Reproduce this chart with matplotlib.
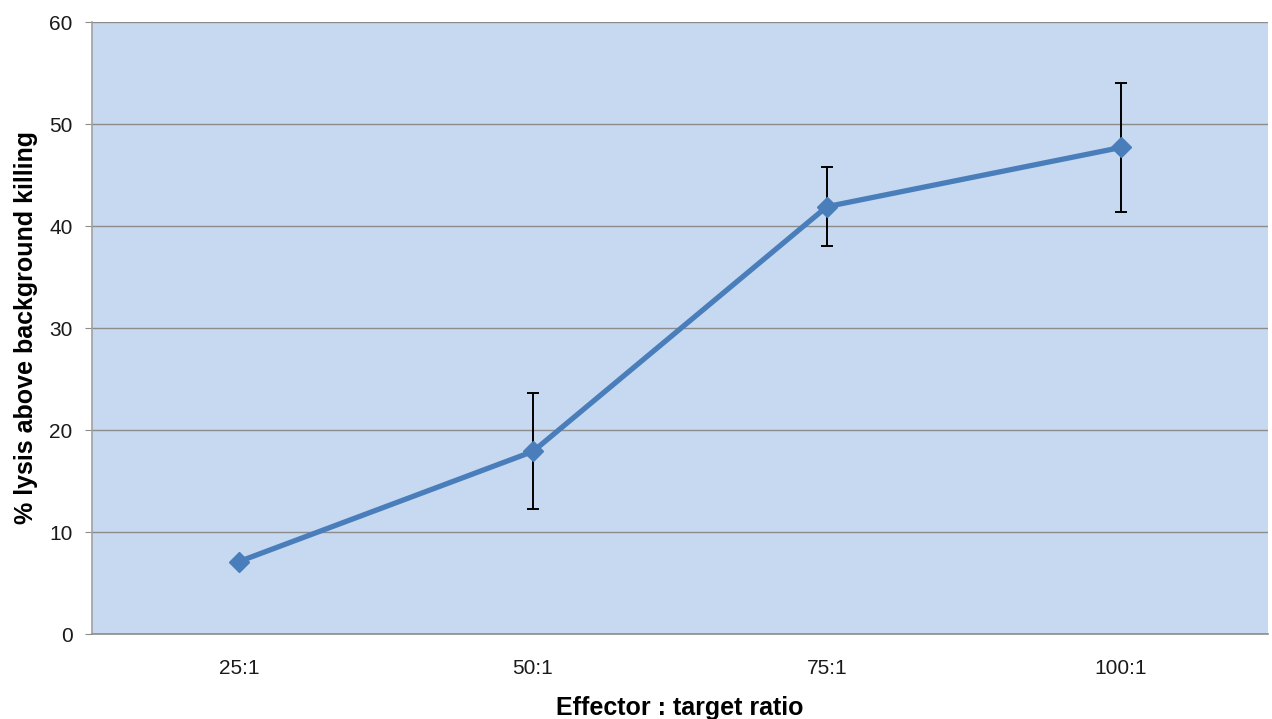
import matplotlib
matplotlib.use("Agg")
import matplotlib.pyplot as plt
import numpy as np

categories = ["25:1", "50:1", "75:1", "100:1"]
lysis = [7.1, 17.9, 41.9, 47.7]
err_upper = [0.0, 5.7, 3.9, 6.3]
err_lower = [0.0, 5.6, 3.9, 6.3]
y_ticks = [0, 10, 20, 30, 40, 50, 60]

plt.rcParams['font.family'] = ['Liberation Sans', 'DejaVu Sans']

fig = plt.figure(figsize=(12.72, 7.19), dpi=100)
ax = fig.add_axes([92/1272, 85/719, 1176/1272, 612/719])
ax.set_facecolor('#C6D9F1')

x = np.arange(len(categories))
ax.errorbar(x, lysis, yerr=[err_lower, err_upper], fmt='none', ecolor='black',
            elinewidth=1.4, capsize=4, capthick=1.4, zorder=2)
ax.plot(x, lysis, color='#4A7EBB', linewidth=3.8, marker='D', markersize=10,
        markerfacecolor='#4A7EBB', markeredgecolor='#4A7EBB', zorder=3)

ax.set_xlim(-0.5, len(categories) - 0.5)
ax.set_ylim(0, 60)
ax.set_yticks(y_ticks)
ax.set_xticks(x)
ax.set_xticklabels(categories)
ax.yaxis.grid(True, color='#8C8C8C', linewidth=1.0)
ax.set_axisbelow(True)

for s in ['top', 'right']:
    ax.spines[s].set_visible(False)
ax.spines['left'].set_color('#A0A0A0')
ax.spines['bottom'].set_color('#8C8C8C')
ax.spines['left'].set_linewidth(1.2)
ax.spines['bottom'].set_linewidth(1.2)

ax.tick_params(axis='y', length=5, color='#8C8C8C', labelsize=15, pad=9, labelcolor='#1a1a1a')
ax.tick_params(axis='x', length=0, labelsize=15, pad=18, labelcolor='#1a1a1a')

ax.set_xlabel('Effector : target ratio', fontsize=18, fontweight='bold', labelpad=13)
ax.set_ylabel('% lysis above background killing', fontsize=18, fontweight='bold', labelpad=8)

fig.savefig('out.png', dpi=100)
